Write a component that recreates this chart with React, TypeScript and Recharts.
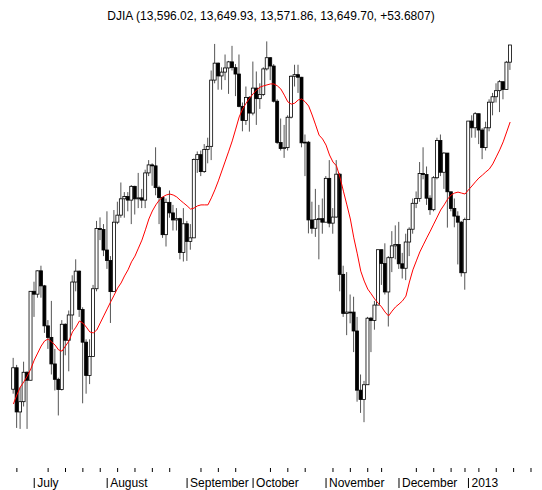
import React from 'react';
import { ComposedChart, Bar, Line, XAxis, YAxis } from 'recharts';

// trading days shown, grouped by month
const tradingDays: [string, number[]][] = [
    ['2012-06', [22, 25, 26, 27, 28, 29]],
    ['2012-07', [2, 3, 5, 6, 9, 10, 11, 12, 13, 16, 17, 18, 19, 20, 23, 24, 25, 26, 27, 30, 31]],
    ['2012-08', [1, 2, 3, 6, 7, 8, 9, 10, 13, 14, 15, 16, 17, 20, 21, 22, 23, 24, 27, 28, 29, 30, 31]],
    ['2012-09', [4, 5, 6, 7, 10, 11, 12, 13, 14, 17, 18, 19, 20, 21, 24, 25, 26, 27, 28]],
    ['2012-10', [1, 2, 3, 4, 5, 8, 9, 10, 11, 12, 15, 16, 17, 18, 19, 22, 23, 24, 25, 26, 31]],
    ['2012-11', [1, 2, 5, 6, 7, 8, 9, 12, 13, 14, 15, 16, 19, 20, 21, 23, 26, 27, 28, 29, 30]],
    ['2012-12', [3, 4, 5, 6, 7, 10, 11, 12, 13, 14, 17, 18, 19, 20, 21, 24, 26, 27, 28, 31]],
    ['2013-01', [2, 3, 4, 7, 8, 9, 10, 11, 14, 15, 16, 17, 18]],
];

// empty room on the right of the axis
const futureDates = ['2013-01-21', '2013-01-22', '2013-01-23', '2013-01-24', '2013-01-25', '2013-01-28', '2013-01-29'];

const opens = [
    12574, 12641, 12503, 12535, 12627, 12602,
    12880, 12871, 12944, 12897, 12772, 12736, 12653, 12605, 12573, 12777, 12727, 12806, 12909, 12943, 12823, 12721, 12617, 12676, 12888, 13076, 13073,
    13009, 12976, 12879, 13096, 13118, 13169, 13176, 13165, 13208, 13169, 13172, 13165, 13250, 13275, 13272, 13204, 13173, 13057, 13158, 13125, 13103, 13107, 13001,
    13091, 13036, 13047, 13292, 13307, 13254, 13323, 13333, 13540, 13593, 13553, 13565, 13578, 13597, 13579, 13559, 13458, 13414, 13486,
    13437, 13515, 13482, 13495, 13575, 13610, 13584, 13474, 13345, 13326, 13329, 13424, 13552, 13557, 13549, 13344, 13346, 13103, 13077, 13104, 13107,
    13096, 13233, 13093, 13112, 13246, 12933, 12811, 12815, 12815, 12756, 12571, 12542, 12588, 12796, 12789, 12837, 13010, 12967, 12878, 12985, 13022,
    13026, 12966, 12952, 13034, 13074, 13155, 13170, 13248, 13245, 13171, 13135, 13235, 13351, 13252, 13312, 13191, 13139, 13115, 13096, 12938,
    13104, 13412, 13391, 13435, 13384, 13329, 13391, 13471, 13488, 13507, 13535, 13511, 13596.02,
];

const highs = [
    12672, 12650, 12580, 12660, 12630, 12880,
    12910, 12945, 12960, 12900, 12790, 12850, 12700, 12610, 12790, 12780, 12820, 12930, 12980, 12945, 12830, 12730, 12730, 12900, 13100, 13111, 13090,
    13130, 12990, 13134, 13160, 13220, 13190, 13190, 13212, 13210, 13250, 13200, 13260, 13290, 13280, 13330, 13210, 13175, 13170, 13195, 13150, 13140, 13110, 13140,
    13100, 13090, 13295, 13317, 13320, 13340, 13360, 13570, 13653, 13595, 13580, 13620, 13600, 13647, 13590, 13620, 13470, 13520, 13490,
    13598, 13567, 13530, 13580, 13661, 13612, 13590, 13480, 13420, 13400, 13430, 13555, 13588, 13588, 13550, 13370, 13350, 13160, 13200, 13150, 13170,
    13240, 13290, 13140, 13290, 13250, 12960, 12940, 12870, 12863, 12800, 12620, 12600, 12800, 12800, 12850, 13010, 13010, 13030, 12990, 13068, 13086,
    13097, 13000, 13060, 13080, 13170, 13192, 13284, 13330, 13270, 13180, 13240, 13360, 13370, 13315, 13312, 13191, 13170, 13130, 13100, 13110,
    13412, 13430, 13440, 13435, 13390, 13410, 13480, 13500, 13530, 13540, 13535, 13600, 13649.93,
];

const lows = [
    12560, 12453, 12450, 12520, 12450, 12602,
    12800, 12860, 12860, 12750, 12700, 12620, 12570, 12492, 12570, 12680, 12630, 12760, 12880, 12800, 12530, 12560, 12590, 12676, 12880, 13040, 12990,
    12950, 12781, 12879, 13090, 13110, 13110, 13130, 13090, 13120, 13140, 13140, 13140, 13240, 13210, 13180, 13090, 13047, 13020, 13110, 13070, 13070, 12980, 12973,
    12975, 13010, 13047, 13250, 13240, 13250, 13280, 13290, 13530, 13510, 13510, 13540, 13497, 13570, 13490, 13455, 13380, 13400, 13379,
    13430, 13400, 13450, 13490, 13570, 13540, 13470, 13340, 13320, 13297, 13320, 13420, 13520, 13500, 13330, 13240, 13061, 13060, 13050, 12980, 13060,
    13096, 13080, 13060, 13110, 12880, 12800, 12743, 12780, 12690, 12535, 12500, 12471, 12588, 12690, 12760, 12837, 12900, 12870, 12770, 12940, 12980,
    12950, 12920, 12915, 12990, 13060, 13140, 13160, 13230, 13150, 13119, 13130, 13230, 13240, 13200, 13079, 13130, 13080, 12964, 12926, 12885,
    13104, 13360, 13360, 13340, 13293, 13320, 13380, 13430, 13470, 13440, 13480, 13511, 13571.86,
];

const closes = [
    12641, 12503, 12535, 12627, 12602, 12880,
    12871, 12944, 12897, 12772, 12736, 12653, 12605, 12573, 12777, 12727, 12806, 12909, 12943, 12823, 12721, 12617, 12676, 12888, 13076, 13073, 13009,
    12976, 12879, 13096, 13118, 13169, 13176, 13165, 13208, 13169, 13172, 13165, 13250, 13275, 13272, 13204, 13173, 13057, 13158, 13125, 13103, 13107, 13001, 13091,
    13036, 13047, 13292, 13307, 13254, 13323, 13333, 13540, 13593, 13553, 13565, 13578, 13597, 13579, 13559, 13458, 13414, 13486, 13437,
    13515, 13482, 13495, 13575, 13610, 13584, 13474, 13345, 13326, 13329, 13424, 13552, 13557, 13549, 13344, 13346, 13103, 13077, 13104, 13107, 13096,
    13233, 13093, 13112, 13246, 12933, 12811, 12815, 12815, 12756, 12571, 12542, 12588, 12796, 12789, 12837, 13010, 12967, 12878, 12985, 13022, 13026,
    12966, 12952, 13034, 13074, 13155, 13170, 13248, 13245, 13171, 13135, 13235, 13351, 13252, 13312, 13191, 13139, 13115, 13096, 12938, 13104,
    13412, 13391, 13435, 13384, 13329, 13391, 13471, 13488, 13507, 13535, 13511, 13596.02, 13649.7,
];

// red moving average
const movingAverage = [
    12528, 12556, 12581, 12597, 12615, 12637,
    12665, 12687, 12709, 12725, 12731, 12722, 12712, 12697, 12693, 12709, 12725, 12753, 12768, 12787, 12781, 12768, 12753, 12750, 12759, 12781, 12803,
    12825, 12847, 12868, 12890, 12906, 12928, 12947, 12972, 12990, 13015, 13040, 13072, 13106, 13131, 13150, 13165, 13175, 13181, 13184, 13181, 13175, 13165, 13156,
    13147, 13137, 13140, 13147, 13150, 13150, 13150, 13172, 13197, 13225, 13256, 13287, 13318, 13350, 13387, 13425, 13450, 13468, 13484,
    13497, 13509, 13518, 13522, 13525, 13528, 13528, 13522, 13512, 13493, 13472, 13465, 13468, 13478, 13481, 13472, 13459, 13431, 13400, 13368, 13356,
    13337, 13306, 13284, 13272, 13237, 13193, 13150, 13106, 13047, 12997, 12943, 12912, 12887, 12872, 12856, 12843, 12831, 12815, 12803, 12818, 12831,
    12840, 12850, 12865, 12909, 12947, 12975, 13003, 13025, 13047, 13068, 13090, 13112, 13134, 13150, 13168, 13181, 13187, 13190, 13187, 13184,
    13197, 13209, 13222, 13234, 13243, 13253, 13262, 13278, 13300, 13322, 13347, 13378, 13409,
];

const weekTickDates = [
    '2012-06-25', '2012-07-09', '2012-07-16', '2012-07-23', '2012-07-30', '2012-08-06', '2012-08-13', '2012-08-20', '2012-08-27',
    '2012-09-10', '2012-09-17', '2012-09-24', '2012-10-08', '2012-10-15', '2012-10-22', '2012-11-05', '2012-11-12', '2012-11-19',
    '2012-11-26', '2012-12-10', '2012-12-17', '2012-12-24', '2012-12-31', '2013-01-07', '2013-01-14', '2013-01-21', '2013-01-28',
];
const monthTickDates = ['2012-07-02', '2012-08-01', '2012-09-04', '2012-10-01', '2012-11-01', '2012-12-03', '2013-01-02'];
const monthLabels = ['July', 'August', 'September', 'October', 'November', 'December', '2013'];

const title = 'DJIA (13,596.02, 13,649.93, 13,571.86, 13,649.70, +53.6807)';

const FONT = '"Liberation Sans", Arial, sans-serif';

const dates = tradingDays.flatMap(([month, days]) => days.map(d => `${month}-${String(d).padStart(2, '0')}`));

const chartData = [
    ...dates.map((date, i) => ({
        date,
        range: [lows[i], highs[i]],
        open: opens[i],
        high: highs[i],
        low: lows[i],
        close: closes[i],
        ma: movingAverage[i],
    })),
    ...futureDates.map(date => ({ date })),
];

const Candle = (props: any) => {
    const { x, y, width, height, payload } = props;
    if (!payload || payload.open == null || height == null) return null;
    const { open, close, high, low } = payload;
    const top = Math.min(y, y + height);
    const h = Math.abs(height);
    const perUnit = h / (high - low);
    const yOf = (v: number) => top + (high - v) * perUnit;
    const cx = x + width / 2;
    const up = close >= open;
    const bodyTop = yOf(Math.max(open, close));
    const bodyBottom = yOf(Math.min(open, close));
    return (
        <g>
            <line x1={cx} x2={cx} y1={top} y2={top + h} stroke="#555" strokeWidth={1} />
            <rect
                x={cx - 1.5}
                y={bodyTop}
                width={3}
                height={Math.max(bodyBottom - bodyTop, 0.8)}
                fill={up ? '#fff' : '#000'}
                stroke="#000"
                strokeWidth={0.8}
            />
        </g>
    );
};

const AxisTick = (props: any) => {
    const { x, payload } = props;
    const m = monthTickDates.indexOf(payload.value);
    if (m >= 0) {
        return (
            <g>
                <line x1={x} x2={x} y1={478} y2={488} stroke="#000" strokeWidth={1} />
                <text x={x + 3} y={487} fontSize={12} fontFamily={FONT} fill="#000">
                    {monthLabels[m]}
                </text>
            </g>
        );
    }
    return <line x1={x} x2={x} y1={468} y2={472} stroke="#000" strokeWidth={1} />;
};

const App = () => {
    return (
        <div style={{ position: 'absolute', left: 0, top: 0, width: 542, height: 490, background: '#fff' }}>
            <div
                style={{
                    position: 'absolute',
                    left: 0,
                    top: 10,
                    width: 542,
                    textAlign: 'center',
                    fontFamily: FONT,
                    fontSize: 12,
                    lineHeight: '12px',
                    color: '#000',
                }}
            >
                {title}
            </div>
            <ComposedChart
                width={542}
                height={490}
                data={chartData}
                margin={{ top: 30, right: 5.8, bottom: 0, left: 11.66 }}
                barCategoryGap={0}
            >
                <XAxis
                    dataKey="date"
                    type="category"
                    ticks={[...weekTickDates, ...monthTickDates]}
                    interval={0}
                    tick={<AxisTick />}
                    axisLine={false}
                    tickLine={false}
                    height={30}
                />
                <YAxis hide type="number" domain={[12352.8, 13696.6]} allowDataOverflow />
                <Bar dataKey="range" shape={<Candle />} isAnimationActive={false} />
                <Line
                    type="linear"
                    dataKey="ma"
                    stroke="#ff0000"
                    strokeWidth={1}
                    dot={false}
                    activeDot={false}
                    isAnimationActive={false}
                />
            </ComposedChart>
        </div>
    );
};

export default App;
